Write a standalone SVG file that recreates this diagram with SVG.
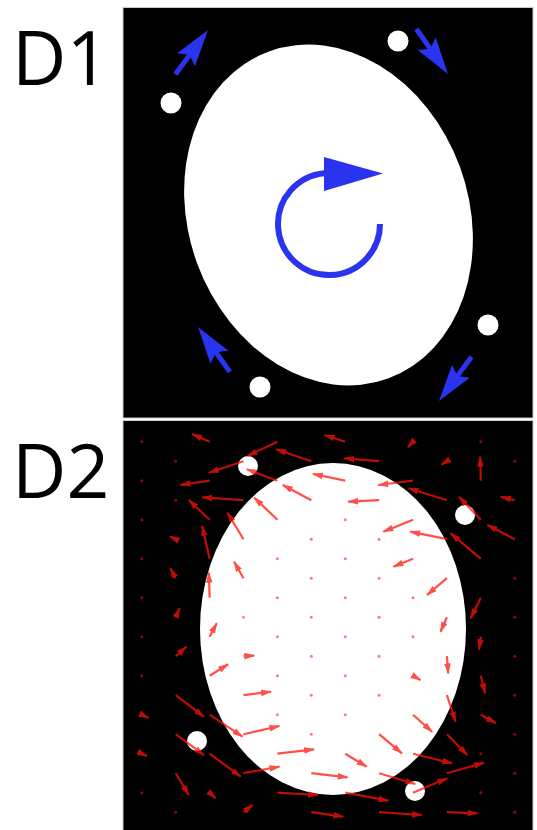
<svg xmlns="http://www.w3.org/2000/svg" xmlns:xlink="http://www.w3.org/1999/xlink" width="537" height="830" viewBox="0 0 537 830">
<style>
.lbl{font-family:"Open Sans","Liberation Sans",sans-serif;font-size:75px;fill:#000}
.panel{fill:#000;stroke:#c8c8c8;stroke-width:1}
.cell{fill:#fff}
.bl{fill:#2a33ee}
.q line{stroke:#ff1208;stroke-width:2.2;opacity:0.74;marker-end:url(#rh)}
.q circle{fill:#ff1208;opacity:0.55}
</style>
<defs>
<marker id="rh" viewBox="0 0 10 6" refX="9" refY="3" markerWidth="11" markerHeight="7" markerUnits="userSpaceOnUse" orient="auto">
<path d="M0,0 L10,3 L0,6 Z" fill="#ff1208"/>
</marker>
<g id="barrow">
<line x1="-20" y1="0" x2="-55" y2="0" stroke="#2a33ee" stroke-width="5"/>
<path d="M0,0 L-37,-11 L-31,0 L-37,11 Z" fill="#2a33ee"/>
</g>
</defs>
<rect width="537" height="830" fill="#fff"/>

<g id="panel-d1">
<text class="lbl" x="12" y="85">D1</text>
<rect class="panel" x="123" y="7.5" width="410" height="410.5"/>
<ellipse id="d1-cell" class="cell" cx="328.5" cy="215" rx="140" ry="174" transform="rotate(-20 328.5 215)"/>
<g id="d1-beads">
<circle class="cell" cx="171" cy="103" r="10.5"/>
<circle class="cell" cx="398" cy="41" r="10.5"/>
<circle class="cell" cx="488" cy="325" r="10.5"/>
<circle class="cell" cx="260" cy="387" r="10.5"/>
</g>
<g id="d1-rotation">
<path d="M380,224 A51,51 0 1 1 324.6,173.2" fill="none" stroke="#2a33ee" stroke-width="6"/>
<path class="bl" d="M324,157 L383,173.5 L324,191 Z"/>
</g>
<g id="d1-motion">
<use xlink:href="#barrow" transform="translate(208,30) rotate(-53.7)"/>
<use xlink:href="#barrow" transform="translate(448,74) rotate(54.9)"/>
<use xlink:href="#barrow" transform="translate(439,401) rotate(126.3)"/>
<use xlink:href="#barrow" transform="translate(198,327) rotate(-125.4)"/>
</g>
</g>

<g id="panel-d2">
<text class="lbl" x="12" y="498">D2</text>
<rect class="panel" x="123" y="420.5" width="410" height="410"/>
<ellipse id="d2-cell" class="cell" cx="333" cy="629" rx="133" ry="166"/>
<g id="d2-beads">
<circle class="cell" cx="248" cy="466" r="10"/>
<circle class="cell" cx="465" cy="515" r="10"/>
<circle class="cell" cx="197" cy="741" r="10"/>
<circle class="cell" cx="415" cy="791" r="10"/>
</g>
<g id="d2-flow" class="q">
<circle cx="141.8" cy="441.7" r="1.5"/><circle cx="480.8" cy="441.7" r="1.5"/>
<line x1="209.6" y1="441.7" x2="192.2" y2="434"/>
<line x1="277.4" y1="441.7" x2="247.5" y2="456"/>
<line x1="345.2" y1="441.7" x2="324.7" y2="435"/>
<line x1="413" y1="441.7" x2="408" y2="447.3"/>
<circle cx="175.7" cy="461.2" r="1.5"/><circle cx="514.7" cy="461.2" r="1.5"/>
<line x1="243.5" y1="461.2" x2="208.9" y2="472.7"/>
<line x1="311.3" y1="461.2" x2="276.1" y2="449.3"/>
<line x1="379.1" y1="461.2" x2="344.2" y2="458.3"/>
<line x1="446.9" y1="461.2" x2="441.5" y2="464.7"/>
<circle cx="141.8" cy="480.7" r="1.5"/>
<line x1="209.6" y1="480.7" x2="180.4" y2="485"/>
<line x1="277.4" y1="480.7" x2="246.9" y2="469.3"/>
<line x1="345.2" y1="480.7" x2="313" y2="474"/>
<line x1="413" y1="480.7" x2="378.4" y2="485"/>
<line x1="480.8" y1="480.7" x2="480.1" y2="456.7"/>
<circle cx="175.7" cy="500.2" r="1.5"/>
<line x1="243.5" y1="500.2" x2="202.2" y2="497.3"/>
<line x1="311.3" y1="500.2" x2="282.8" y2="485"/>
<line x1="379.1" y1="500.2" x2="348.2" y2="501.7"/>
<line x1="446.9" y1="500.2" x2="408.6" y2="488.3"/>
<line x1="514.7" y1="500.2" x2="500.9" y2="496.7"/>
<circle cx="141.8" cy="519.7" r="1.5"/><circle cx="345.2" cy="519.7" r="1.5"/>
<line x1="209.6" y1="519.7" x2="188.8" y2="500"/>
<line x1="277.4" y1="519.7" x2="254.2" y2="497.7"/>
<line x1="413" y1="519.7" x2="383.4" y2="531.7"/>
<line x1="480.8" y1="519.7" x2="459" y2="496.7"/>
<circle cx="311.3" cy="539.2" r="1.5"/><circle cx="379.1" cy="539.2" r="1.5"/>
<line x1="175.7" y1="539.2" x2="170" y2="536.4"/>
<line x1="243.5" y1="539.2" x2="227.4" y2="512.7"/>
<line x1="446.9" y1="539.2" x2="410.3" y2="531.7"/>
<line x1="514.7" y1="539.2" x2="487.5" y2="525"/>
<circle cx="141.8" cy="558.7" r="1.5"/><circle cx="277.4" cy="558.7" r="1.5"/><circle cx="345.2" cy="558.7" r="1.5"/>
<line x1="209.6" y1="558.7" x2="202.2" y2="526"/>
<line x1="413" y1="558.7" x2="393.5" y2="566.7"/>
<line x1="480.8" y1="558.7" x2="450.6" y2="533.3"/>
<circle cx="311.3" cy="578.2" r="1.5"/><circle cx="379.1" cy="578.2" r="1.5"/><circle cx="514.7" cy="578.2" r="1.5"/>
<line x1="175.7" y1="578.2" x2="170.3" y2="568.3"/>
<line x1="243.5" y1="578.2" x2="234.1" y2="561.7"/>
<line x1="446.9" y1="578.2" x2="427.1" y2="595"/>
<circle cx="141.8" cy="597.7" r="1.5"/><circle cx="277.4" cy="597.7" r="1.5"/><circle cx="345.2" cy="597.7" r="1.5"/><circle cx="413" cy="597.7" r="1.5"/>
<line x1="209.6" y1="597.7" x2="208.9" y2="572.7"/>
<line x1="480.8" y1="597.7" x2="470.7" y2="618.3"/>
<circle cx="243.5" cy="617.2" r="1.5"/><circle cx="311.3" cy="617.2" r="1.5"/><circle cx="379.1" cy="617.2" r="1.5"/><circle cx="514.7" cy="617.2" r="1.5"/>
<line x1="175.7" y1="617.2" x2="179.7" y2="608.3"/>
<line x1="446.9" y1="617.2" x2="440.5" y2="631.7"/>
<circle cx="141.8" cy="636.7" r="1.5"/><circle cx="277.4" cy="636.7" r="1.5"/><circle cx="345.2" cy="636.7" r="1.5"/><circle cx="413" cy="636.7" r="1.5"/>
<line x1="209.6" y1="636.7" x2="216.7" y2="623.3"/>
<line x1="480.8" y1="636.7" x2="479.1" y2="649.3"/>
<circle cx="311.3" cy="656.2" r="1.5"/><circle cx="379.1" cy="656.2" r="1.5"/><circle cx="514.7" cy="656.2" r="1.5"/>
<line x1="175.7" y1="656.2" x2="186.4" y2="646.7"/>
<line x1="243.5" y1="656.2" x2="254.2" y2="655.7"/>
<line x1="446.9" y1="656.2" x2="448.2" y2="673.3"/>
<circle cx="141.8" cy="675.7" r="1.5"/><circle cx="277.4" cy="675.7" r="1.5"/><circle cx="345.2" cy="675.7" r="1.5"/>
<line x1="209.6" y1="675.7" x2="228.1" y2="664.3"/>
<line x1="413" y1="675.7" x2="420.4" y2="680"/>
<line x1="480.8" y1="675.7" x2="485.1" y2="693.3"/>
<circle cx="311.3" cy="695.2" r="1.5"/><circle cx="379.1" cy="695.2" r="1.5"/><circle cx="514.7" cy="695.2" r="1.5"/>
<line x1="175.7" y1="695.2" x2="203.9" y2="716.7"/>
<line x1="243.5" y1="695.2" x2="271" y2="691.7"/>
<line x1="446.9" y1="695.2" x2="455.6" y2="721.7"/>
<circle cx="277.4" cy="714.7" r="1.5"/><circle cx="345.2" cy="714.7" r="1.5"/>
<line x1="141.8" y1="714.7" x2="148.5" y2="717.7"/>
<line x1="209.6" y1="714.7" x2="242.5" y2="736.7"/>
<line x1="413" y1="714.7" x2="432.1" y2="731.7"/>
<line x1="480.8" y1="714.7" x2="495.9" y2="723.3"/>
<circle cx="311.3" cy="734.2" r="1.5"/><circle cx="514.7" cy="734.2" r="1.5"/>
<line x1="175.7" y1="734.2" x2="203.9" y2="755"/>
<line x1="243.5" y1="734.2" x2="279.4" y2="726"/>
<line x1="379.1" y1="734.2" x2="401.9" y2="753.3"/>
<line x1="446.9" y1="734.2" x2="467.3" y2="755"/>
<circle cx="480.8" cy="753.7" r="1.5"/>
<line x1="141.8" y1="753.7" x2="146.8" y2="756"/>
<line x1="209.6" y1="753.7" x2="240.8" y2="776.7"/>
<line x1="277.4" y1="753.7" x2="314" y2="749.3"/>
<line x1="345.2" y1="753.7" x2="366.7" y2="766.7"/>
<line x1="413" y1="753.7" x2="452.2" y2="763.3"/>
<circle cx="514.7" cy="773.2" r="1.5"/>
<line x1="175.7" y1="773.2" x2="188.8" y2="795"/>
<line x1="243.5" y1="773.2" x2="279.4" y2="766.7"/>
<line x1="311.3" y1="773.2" x2="347.5" y2="777.3"/>
<line x1="379.1" y1="773.2" x2="415.3" y2="784"/>
<line x1="446.9" y1="773.2" x2="484.1" y2="762.7"/>
<circle cx="141.8" cy="792.7" r="1.5"/><circle cx="480.8" cy="792.7" r="1.5"/>
<line x1="209.6" y1="792.7" x2="215.6" y2="798.3"/>
<line x1="277.4" y1="792.7" x2="318" y2="795"/>
<line x1="345.2" y1="792.7" x2="388.5" y2="800.7"/>
<line x1="413" y1="792.7" x2="447.2" y2="778.3"/>
<circle cx="175.7" cy="812.2" r="1.5"/><circle cx="514.7" cy="812.2" r="1.5"/>
<line x1="243.5" y1="812.2" x2="252.6" y2="805"/>
<line x1="311.3" y1="812.2" x2="343.2" y2="816.7"/>
<line x1="379.1" y1="812.2" x2="422" y2="815"/>
<line x1="446.9" y1="812.2" x2="477.4" y2="813.3"/>
</g>
</g>
</svg>
